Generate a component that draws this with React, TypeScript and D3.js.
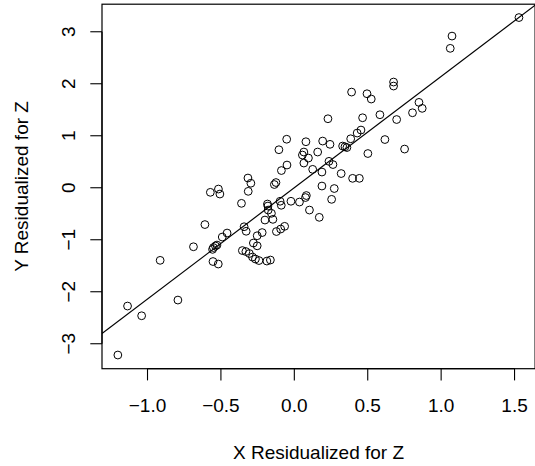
import * as d3 from 'd3'
import { useEffect, useRef } from 'react';

// residuals of X and Y after regressing on Z
const xRes = [
  1.530, 1.074, 1.062, 0.676, 0.676, 0.390, 0.495, 0.524, 0.849, 0.871,
  0.805, 0.697, 0.583, 0.465, 0.229, 0.454, 0.428, 0.384, 0.329, 0.345,
  0.358, 0.617, 0.751, 0.501, 0.079, 0.193, 0.243, 0.065, 0.055, 0.096,
  0.065, 0.159, 0.236, 0.263, 0.125, 0.188, 0.319, 0.397, 0.443, 0.188,
  0.272, -0.052, -0.105, -0.050, -0.088, -0.316, -0.296, -0.125, -0.136, -0.572,
  -0.517, -0.507, -0.314, -0.360, -0.183, -0.180, -0.097, -0.089, -0.023, 0.035,
  0.082, 0.076, 0.254, 0.103, 0.170, -0.178, -0.156, -0.200, -0.146, -0.609,
  -0.342, -0.328, -0.458, -0.491, -0.219, -0.253, -0.279, -0.253, -0.066, -0.093,
  -0.122, -0.687, -0.551, -0.537, -0.527, -0.557, -0.354, -0.330, -0.306, -0.285,
  -0.265, -0.241, -0.187, -0.163, -0.554, -0.518, -0.914, -1.136, -1.040, -0.793,
  -1.202
];
const yRes = [
  3.273, 2.917, 2.681, 2.033, 1.956, 1.840, 1.808, 1.706, 1.642, 1.527,
  1.442, 1.312, 1.404, 1.346, 1.327, 1.110, 1.052, 0.942, 0.802, 0.788,
  0.773, 0.927, 0.744, 0.658, 0.885, 0.898, 0.835, 0.687, 0.629, 0.571,
  0.475, 0.687, 0.508, 0.446, 0.354, 0.302, 0.273, 0.181, 0.181, 0.033,
  -0.015, 0.933, 0.731, 0.437, 0.331, 0.187, 0.087, 0.100, 0.062, -0.088,
  -0.025, -0.121, -0.069, -0.300, -0.313, -0.352, -0.260, -0.337, -0.260, -0.275,
  -0.150, -0.188, -0.223, -0.429, -0.569, -0.429, -0.492, -0.621, -0.608, -0.708,
  -0.750, -0.837, -0.871, -0.948, -0.862, -0.923, -1.063, -1.117, -0.742, -0.794,
  -0.842, -1.135, -1.150, -1.121, -1.102, -1.185, -1.208, -1.227, -1.265, -1.333,
  -1.371, -1.400, -1.410, -1.390, -1.419, -1.467, -1.396, -2.275, -2.462, -2.160,
  -3.217
];
// fitted line (intercept, slope)
const fitCoef = [0.0, 2.14];
const xTicks = [-1.0, -0.5, 0.0, 0.5, 1.0, 1.5];
const yTicks = [-3, -2, -1, 0, 1, 2, 3];
const xTitle = "X Residualized for Z";
const yTitle = "Y Residualized for Z";

const fmt = (v: number, dec: number) => v.toFixed(dec).replace("-", "\u2212");

function drawChart(svgEl: SVGSVGElement) {
    const svg = d3.select(svgEl);
    svg.selectAll("*").remove();
    const left = 102, right = 535.1, top = 4.2, bottom = 368.7;
    const xSc = d3.scaleLinear().domain([-1.31, 1.64]).range([left, right]);
    const ySc = d3.scaleLinear().domain([-3.48, 3.53]).range([bottom, top]);
    const font = "'Liberation Sans', Arial, Helvetica, sans-serif";
    const tickLen = 11.7;

    svg.append("defs").append("clipPath").attr("id", "plotclip")
        .append("rect").attr("x", left).attr("y", top)
        .attr("width", right - left).attr("height", bottom - top);

    // points
    svg.append("g").selectAll("circle")
        .data(xRes.map((x, i) => [x, yRes[i]]))
        .enter().append("circle")
        .attr("cx", d => xSc(d[0])).attr("cy", d => ySc(d[1]))
        .attr("r", 3.9).attr("fill", "none")
        .attr("stroke", "black").attr("stroke-width", 1);

    // regression line
    const lnMkr = d3.line<number>().x(x => xSc(x)).y(x => ySc(fitCoef[0] + fitCoef[1] * x));
    svg.append("path").attr("d", lnMkr(xSc.domain()))
        .attr("clip-path", "url(#plotclip)")
        .attr("fill", "none").attr("stroke", "black").attr("stroke-width", 1.1);

    // box
    svg.append("rect").attr("x", left).attr("y", top)
        .attr("width", right - left).attr("height", bottom - top)
        .attr("fill", "none").attr("stroke", "black").attr("stroke-width", 1.2);

    // x axis
    const gx = svg.append("g");
    gx.append("line").attr("x1", xSc(xTicks[0])).attr("x2", xSc(xTicks[xTicks.length - 1]))
        .attr("y1", bottom).attr("y2", bottom).attr("stroke", "black").attr("stroke-width", 1.2);
    gx.selectAll("line.tick").data(xTicks).enter().append("line").attr("class", "tick")
        .attr("x1", d => xSc(d)).attr("x2", d => xSc(d))
        .attr("y1", bottom).attr("y2", bottom + tickLen)
        .attr("stroke", "black").attr("stroke-width", 1.1);
    gx.selectAll("text").data(xTicks).enter().append("text")
        .attr("x", d => xSc(d)).attr("y", 412)
        .attr("text-anchor", "middle").attr("font-family", font).attr("font-size", 19)
        .text(d => fmt(d, 1));

    // y axis
    const gy = svg.append("g");
    gy.append("line").attr("x1", left).attr("x2", left)
        .attr("y1", ySc(yTicks[0])).attr("y2", ySc(yTicks[yTicks.length - 1]))
        .attr("stroke", "black").attr("stroke-width", 1.2);
    gy.selectAll("line.tick").data(yTicks).enter().append("line").attr("class", "tick")
        .attr("x1", left - tickLen).attr("x2", left)
        .attr("y1", d => ySc(d)).attr("y2", d => ySc(d))
        .attr("stroke", "black").attr("stroke-width", 1.1);
    gy.selectAll("text").data(yTicks).enter().append("text")
        .attr("transform", d => `translate(75,${ySc(d)}) rotate(-90)`)
        .attr("text-anchor", "middle").attr("font-family", font).attr("font-size", 19)
        .text(d => fmt(d, 0));

    // titles
    svg.append("text").attr("x", (left + right) / 2).attr("y", 459)
        .attr("text-anchor", "middle").attr("font-family", font).attr("font-size", 19)
        .text(xTitle);
    svg.append("text").attr("transform", `translate(28,${(top + bottom) / 2}) rotate(-90)`)
        .attr("text-anchor", "middle").attr("font-family", font).attr("font-size", 19)
        .text(yTitle);
}

function App() {
    const ref = useRef<SVGSVGElement>(null);
    useEffect(() => {
        if (ref.current) drawChart(ref.current);
    });

    return (
        <svg ref={ref} width="535" height="466"
            style={{ position: 'absolute', left: 0, top: 0, background: 'white' }}>
        </svg>
    );
}

export default App;
